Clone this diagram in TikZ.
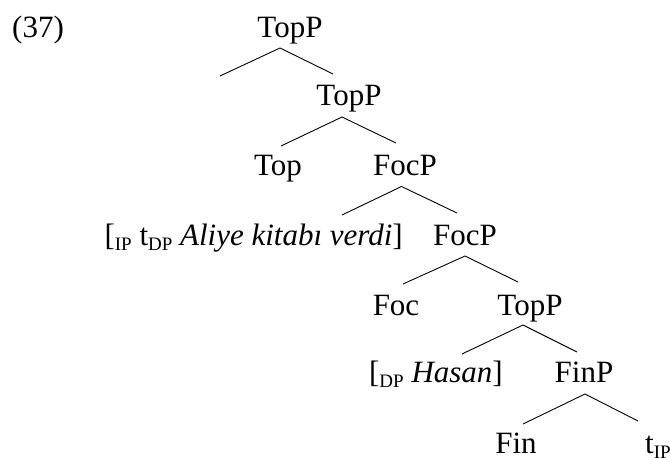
\documentclass[tikz,border=0pt]{standalone}
\usepackage{fontspec}
\setmainfont{Liberation Serif}
% lowered, reduced-size subscript label
\newcommand{\lbl}[1]{\raisebox{-5pt}{\fontsize{19}{19}\selectfont #1}}
\begin{document}
\begin{tikzpicture}[x=1pt,y=1pt,
  lab/.style={inner sep=0pt, anchor=base, font=\fontsize{31}{37}\selectfont},
  branch/.style={line width=0.9pt}]
\useasboundingbox (0,0) rectangle (670,-458);

% example number
\node[lab, anchor=base west] (num) at (12,-37) {(37)};

% tree labels
\node[lab] (topA) at (290,-37)  {TopP};
\node[lab] (topB) at (349,-105) {TopP};
\node[lab] (top)  at (278,-175) {Top};
\node[lab] (focA) at (405,-175) {FocP};
\node[lab, anchor=base east] (ip) at (403,-245)
  {[\lbl{IP} t\lbl{DP} \textit{Aliye kitabı verdi}]};
\node[lab] (focB) at (465,-245) {FocP};
\node[lab] (foc)  at (396,-315) {Foc};
\node[lab] (topC) at (530,-315) {TopP};
\node[lab, anchor=base east] (dp) at (503,-382) {[\lbl{DP} \textit{Hasan}]};
\node[lab] (finP) at (584,-382) {FinP};
\node[lab] (fin)  at (516,-453) {Fin};
\node[lab, anchor=base west] (tip) at (645,-453) {t\lbl{IP}};

% empty left daughter of the topmost TopP
\coordinate (empty) at (220,-76);

% branches
\draw[branch] (empty) -- ([shift={(-10,-11)}]topA.base) -- ([shift={(-16,31)}]topB.base);
\draw[branch] ([shift={(3,29)}]top.base) -- ([shift={(-7,-12)}]topB.base) -- ([shift={(-9,32)}]focA.base);
\draw[branch] ([shift={(-61,30)}]ip.base east) -- ([shift={(-3.5,-11.5)}]focA.base) -- ([shift={(-8,32)}]focB.base);
\draw[branch] ([shift={(7,31)}]foc.base) -- ([shift={(0,-11)}]focB.base) -- ([shift={(-12,33)}]topC.base);
\draw[branch] ([shift={(-41,28)}]dp.base east) -- ([shift={(-7,-10)}]topC.base) -- ([shift={(-7,30)}]finP.base);
\draw[branch] ([shift={(7,29)}]fin.base) -- ([shift={(1,-12)}]finP.base) -- ([shift={(-7,32)}]tip.base west);
\end{tikzpicture}
\end{document}
